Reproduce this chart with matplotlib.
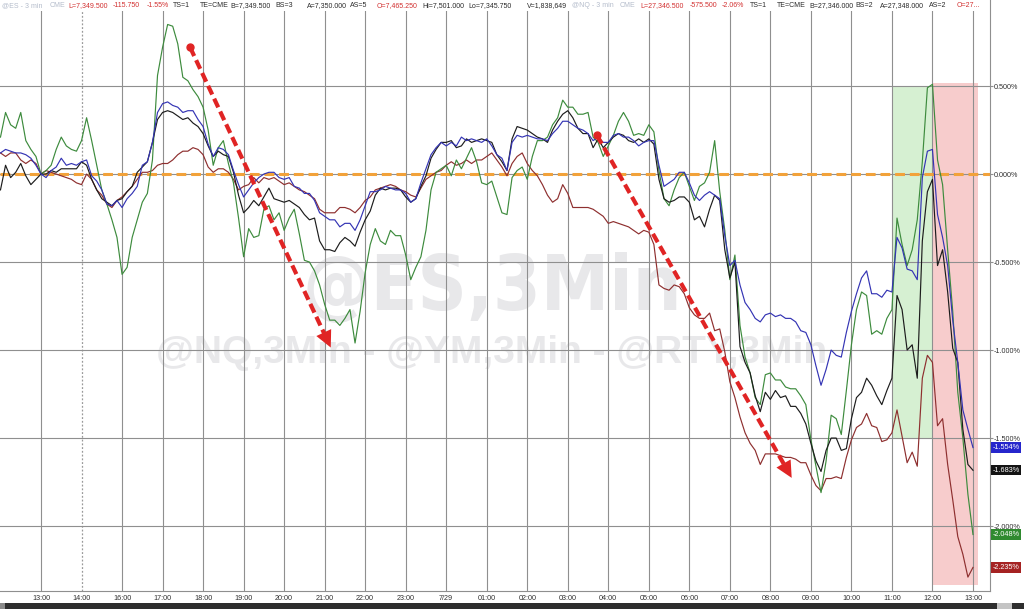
import numpy as np
import matplotlib
matplotlib.use("Agg")
import matplotlib.pyplot as plt
from matplotlib.patches import Rectangle, FancyArrowPatch
import matplotlib.transforms as mtransforms
from matplotlib import font_manager as fm

# ---------------- data ----------------
tick_labels = ['13:00', '14:00', '16:00', '17:00', '18:00', '19:00', '20:00', '21:00',
               '22:00', '23:00', '7/29', '01:00', '02:00', '03:00', '04:00', '05:00',
               '06:00', '07:00', '08:00', '09:00', '10:00', '11:00', '12:00', '13:00']
y_ticks = [0.5, 0.0, -0.5, -1.0, -1.5, -2.0]
y_tick_labels = ['0.500%', '0.000%', '-0.500%', '-1.000%', '-1.500%', '-2.000%']

sample_step_h = 0.125
first_sample_h = -1.0

rty_pct = [0.21, 0.35, 0.28, 0.26, 0.35, 0.19, 0.14, 0.10,
           0.00, 0.02, 0.05, 0.14, 0.21, 0.16, 0.14, 0.13,
           0.19, 0.32, 0.19, 0.05, -0.09, -0.17, -0.26, -0.36,
           -0.57, -0.53, -0.36, -0.26, -0.16, -0.11, 0.08, 0.56,
           0.72, 0.85, 0.84, 0.74, 0.55, 0.53, 0.48, 0.44,
           0.38, 0.25, 0.05, 0.15, 0.19, 0.06, -0.05, -0.25,
           -0.47, -0.31, -0.36, -0.35, -0.20, -0.18, -0.26, -0.22,
           -0.32, -0.25, -0.20, -0.34, -0.49, -0.50, -0.55, -0.63,
           -0.74, -0.83, -0.83, -0.86, -0.82, -0.77, -0.96, -0.78,
           -0.56, -0.40, -0.31, -0.38, -0.40, -0.32, -0.35, -0.35,
           -0.46, -0.60, -0.53, -0.47, -0.32, -0.09, 0.01, 0.03,
           0.05, -0.01, 0.08, 0.03, 0.09, 0.15, 0.07, -0.05,
           -0.06, -0.04, -0.13, -0.22, -0.23, -0.02, 0.02, 0.04,
           -0.03, 0.10, 0.19, 0.19, 0.21, 0.28, 0.32, 0.42,
           0.38, 0.38, 0.34, 0.34, 0.35, 0.21, 0.18, 0.10,
           0.16, 0.22, 0.30, 0.35, 0.30, 0.22, 0.23, 0.22,
           0.28, 0.24, 0.02, -0.14, -0.18, -0.09, -0.02, 0.01,
           -0.07, -0.15, -0.07, -0.05, 0.01, 0.19, -0.10, -0.32,
           -0.60, -0.46, -0.86, -1.04, -1.13, -1.27, -1.31, -1.14,
           -1.13, -1.17, -1.17, -1.21, -1.22, -1.22, -1.26, -1.31,
           -1.51, -1.66, -1.81, -1.63, -1.37, -1.39, -1.48, -1.23,
           -0.97, -0.77, -0.67, -0.69, -0.91, -0.89, -0.91, -0.82,
           -0.77, -0.25, -0.40, -0.52, -0.43, -0.26, 0.07, 0.49,
           0.51, 0.08, -0.06, -0.43, -0.78, -1.24, -1.50, -1.82,
           -2.048]

nq_pct = [0.12, 0.14, 0.13, 0.12, 0.12, 0.11, 0.09, 0.05,
          0.00, -0.02, 0.02, 0.04, 0.09, 0.05, 0.06, 0.05,
          0.07, 0.08, -0.01, -0.04, -0.09, -0.17, -0.18, -0.15,
          -0.19, -0.14, -0.11, -0.07, 0.05, 0.07, 0.18, 0.35,
          0.40, 0.41, 0.39, 0.38, 0.35, 0.36, 0.36, 0.31,
          0.27, 0.17, 0.10, 0.15, 0.14, 0.11, 0.02, -0.06,
          -0.13, -0.09, -0.05, -0.02, 0.00, 0.01, 0.01, -0.02,
          -0.03, -0.02, -0.07, -0.08, -0.11, -0.11, -0.15, -0.22,
          -0.24, -0.26, -0.26, -0.30, -0.28, -0.28, -0.32, -0.26,
          -0.18, -0.10, -0.10, -0.09, -0.07, -0.08, -0.09, -0.09,
          -0.11, -0.16, -0.14, -0.05, 0.03, 0.11, 0.15, 0.18,
          0.16, 0.18, 0.16, 0.21, 0.19, 0.20, 0.19, 0.18,
          0.20, 0.16, 0.11, 0.09, 0.02, 0.18, 0.22, 0.21,
          0.22, 0.21, 0.20, 0.20, 0.19, 0.23, 0.26, 0.30,
          0.30, 0.28, 0.26, 0.25, 0.23, 0.19, 0.21, 0.18,
          0.18, 0.22, 0.23, 0.21, 0.21, 0.19, 0.16, 0.18,
          0.19, 0.19, 0.05, -0.07, -0.05, -0.03, 0.01, 0.01,
          -0.05, -0.12, -0.15, -0.12, -0.10, -0.12, -0.14, -0.35,
          -0.52, -0.49, -0.63, -0.73, -0.77, -0.82, -0.84, -0.80,
          -0.79, -0.81, -0.80, -0.82, -0.82, -0.84, -0.89, -0.90,
          -0.97, -1.09, -1.20, -1.11, -1.00, -1.03, -1.04, -0.90,
          -0.78, -0.68, -0.59, -0.55, -0.68, -0.68, -0.70, -0.66,
          -0.67, -0.36, -0.42, -0.54, -0.55, -0.60, -0.02, 0.13,
          0.14, -0.23, -0.36, -0.52, -0.83, -1.07, -1.34, -1.45,
          -1.554]

es_pct = [-0.09, 0.05, -0.02, 0.01, 0.06, -0.01, -0.06, -0.03,
          0.00, 0.00, 0.02, 0.01, 0.03, 0.03, 0.03, 0.03,
          0.07, 0.05, -0.03, -0.09, -0.14, -0.16, -0.18, -0.15,
          -0.14, -0.10, -0.07, 0.01, 0.04, 0.07, 0.18, 0.31,
          0.35, 0.36, 0.35, 0.33, 0.31, 0.32, 0.29, 0.27,
          0.23, 0.16, 0.10, 0.13, 0.11, 0.10, 0.01, -0.12,
          -0.22, -0.19, -0.15, -0.18, -0.13, -0.08, -0.14, -0.15,
          -0.16, -0.15, -0.17, -0.19, -0.23, -0.26, -0.25, -0.38,
          -0.43, -0.43, -0.44, -0.39, -0.36, -0.38, -0.41, -0.33,
          -0.26, -0.21, -0.12, -0.08, -0.09, -0.08, -0.08, -0.09,
          -0.13, -0.16, -0.14, -0.07, -0.01, 0.09, 0.14, 0.18,
          0.18, 0.19, 0.15, 0.16, 0.20, 0.18, 0.19, 0.20,
          0.19, 0.18, 0.11, 0.07, 0.02, 0.20, 0.27, 0.26,
          0.25, 0.23, 0.21, 0.20, 0.18, 0.25, 0.30, 0.34,
          0.36, 0.32, 0.26, 0.23, 0.23, 0.15, 0.20, 0.15,
          0.18, 0.21, 0.23, 0.22, 0.19, 0.18, 0.20, 0.18,
          0.20, 0.17, -0.03, -0.14, -0.16, -0.15, -0.13, -0.13,
          -0.16, -0.26, -0.24, -0.30, -0.20, -0.12, -0.15, -0.43,
          -0.59, -0.50, -0.98, -1.07, -1.13, -1.26, -1.35, -1.24,
          -1.28, -1.23, -1.27, -1.26, -1.32, -1.32, -1.36, -1.42,
          -1.53, -1.63, -1.69, -1.57, -1.50, -1.50, -1.57, -1.56,
          -1.39, -1.27, -1.24, -1.16, -1.20, -1.26, -1.31, -1.23,
          -1.16, -0.69, -0.77, -1.00, -0.97, -1.16, -0.38, -0.10,
          -0.03, -0.52, -0.43, -0.67, -0.99, -1.07, -1.45, -1.65,
          -1.683]

ym_pct = [0.12, 0.10, 0.12, 0.12, 0.08, 0.06, 0.08, 0.06,
          0.00, 0.02, 0.01, 0.00, -0.01, -0.02, -0.03, -0.05,
          -0.06, 0.00, -0.03, -0.09, -0.12, -0.17, -0.19, -0.15,
          -0.13, -0.10, -0.07, -0.03, 0.01, 0.01, 0.02, 0.05,
          0.06, 0.06, 0.08, 0.11, 0.13, 0.13, 0.15, 0.14,
          0.11, 0.04, 0.01, 0.03, 0.03, 0.01, -0.03, -0.09,
          -0.07, -0.06, -0.02, -0.05, -0.02, -0.03, -0.02, -0.04,
          -0.06, -0.05, -0.07, -0.09, -0.10, -0.12, -0.14, -0.20,
          -0.22, -0.22, -0.22, -0.19, -0.19, -0.20, -0.22, -0.19,
          -0.15, -0.13, -0.09, -0.08, -0.07, -0.06, -0.07, -0.09,
          -0.10, -0.12, -0.13, -0.08, -0.03, -0.01, 0.01, 0.02,
          0.05, 0.07, 0.05, 0.06, 0.08, 0.06, 0.08, 0.08,
          0.10, 0.12, 0.08, 0.04, -0.01, 0.06, 0.10, 0.12,
          0.06, 0.02, -0.01, -0.06, -0.12, -0.16, -0.14, -0.06,
          -0.11, -0.19, -0.19, -0.19, -0.19, -0.20, -0.22, -0.24,
          -0.28, -0.27, -0.28, -0.29, -0.30, -0.32, -0.34, -0.32,
          -0.33, -0.40, -0.63, -0.65, -0.66, -0.63, -0.64, -0.68,
          -0.76, -0.80, -0.82, -0.82, -0.79, -0.89, -0.88, -1.01,
          -1.18, -1.27, -1.38, -1.47, -1.53, -1.57, -1.65, -1.59,
          -1.59, -1.59, -1.60, -1.61, -1.61, -1.62, -1.64, -1.64,
          -1.71, -1.77, -1.80, -1.73, -1.73, -1.72, -1.73, -1.61,
          -1.51, -1.44, -1.42, -1.36, -1.43, -1.44, -1.52, -1.51,
          -1.47, -1.34, -1.49, -1.64, -1.58, -1.66, -1.16, -1.03,
          -1.07, -1.43, -1.39, -1.65, -1.85, -2.06, -2.16, -2.29,
          -2.235]

last_value_labels = ['-1.554%', '-1.683%', '-2.048%', '-2.235%']

# ---------------- styling ----------------
C_NQ, C_ES, C_RTY, C_YM = '#3434b4', '#1c1c1c', '#3d8b3d', '#8e2f2f'
F_NQ, F_ES, F_RTY, F_YM = '#2626cc', '#141414', '#2f8a2f', '#a52222'
GRID = '#8f8f8f'
RED = '#e02424'
BASE_FONT = 'Liberation Sans'
WM_COLOR = '#e8e8ea'

# pick a condensed bold face for the big watermark if one is installed
wm_big_font = None
for f in fm.fontManager.ttflist:
    nm = f.name.lower()
    if ('narrow' in nm or 'condensed' in nm or str(f.stretch) in ('condensed', 'semi-condensed', '600', '700')
            or 'condensed' in f.fname.lower() or 'narrow' in f.fname.lower()):
        if f.weight in ('bold', 700) or 'bold' in f.fname.lower():
            wm_big_font = f.fname
            break

W, H = 1024, 609
fig = plt.figure(figsize=(W / 100, H / 100), dpi=100)
fig.patch.set_facecolor('white')
ax_bottom_px, ax_right_px = 591, 990
ax = fig.add_axes([0, 1 - ax_bottom_px / H, ax_right_px / W, ax_bottom_px / H])
ax.set_facecolor('white')

n = len(es_pct)
t = first_sample_h + sample_step_h * np.arange(n)

ax.set_xlim(-1.012, 23.42)
ax.set_ylim(-2.369, 0.989)

# shaded zones
ax.add_patch(Rectangle((21, -1.5), 1.0, 2.0, facecolor='#d6f0d2', edgecolor='none', zorder=0.6))
ax.add_patch(Rectangle((22, -2.335), 1.12, 2.851, facecolor='#f7cccc', edgecolor='none', zorder=0.6))

# watermarks
if wm_big_font is not None:
    big_fp = fm.FontProperties(fname=wm_big_font, size=55)
else:
    big_fp = fm.FontProperties(family=BASE_FONT, weight='bold', size=50)
ax.text(0.497, 0.4755, '@ES,3Min', transform=ax.transAxes, ha='center', va='baseline',
        fontproperties=big_fp, color=WM_COLOR, zorder=0.5)
ax.text(0.497, 0.3858, '@NQ,3Min - @YM,3Min - @RTY,3Min', transform=ax.transAxes,
        ha='center', va='baseline', fontsize=28, fontweight='bold', color=WM_COLOR,
        family=[BASE_FONT, 'DejaVu Sans'], zorder=0.5)

# grid
for i in range(len(tick_labels)):
    if tick_labels[i] == '14:00':
        ax.axvline(i, color='#9a9a9a', lw=0.9, ls=(0, (1.5, 1.5)), zorder=1)
    else:
        ax.axvline(i, color=GRID, lw=0.8, zorder=1)
for yv in y_ticks:
    ax.axhline(yv, color=GRID, lw=0.8, zorder=1)

# zero line
ax.axhline(0, color='#f2a23a', lw=2.2, dashes=(3.2, 1.6), zorder=2)

# series
ax.plot(t, ym_pct, color=C_YM, lw=0.85, zorder=3)
ax.plot(t, rty_pct, color=C_RTY, lw=0.85, zorder=3)
ax.plot(t, es_pct, color=C_ES, lw=0.85, zorder=3.1)
ax.plot(t, nq_pct, color=C_NQ, lw=0.85, zorder=3.2)

# red dashed arrows
def dashed_arrow(x0, y0, x1, y1):
    back = 0.045
    xb, yb = x1 - (x1 - x0) * back, y1 - (y1 - y0) * back
    ax.plot([x0, xb], [y0, yb], color=RED, lw=3.0, dashes=(2.3, 1.1),
            solid_capstyle='butt', dash_capstyle='butt', zorder=5)
    ax.plot([x0], [y0], 'o', ms=5, color=RED, zorder=5)
    arr = FancyArrowPatch((xb, yb), (x1, y1), arrowstyle='-|>,head_length=0.85,head_width=0.42',
                          mutation_scale=14, color=RED, lw=0, zorder=5)
    ax.add_patch(arr)

dashed_arrow(3.68, 0.72, 7.18, -1.0)
dashed_arrow(13.72, 0.22, 18.56, -1.74)

# axes / ticks
for s in ['left', 'top']:
    ax.spines[s].set_visible(False)
for s in ['right', 'bottom']:
    ax.spines[s].set_color(GRID)
    ax.spines[s].set_linewidth(0.8)
ax.set_xticks(range(len(tick_labels)))
ax.set_xticklabels(tick_labels, fontsize=5.2, family=BASE_FONT, color='#303030')
ax.tick_params(axis='x', length=0, pad=2.8)
ax.yaxis.tick_right()
ax.set_yticks(y_ticks)
ax.set_yticklabels(y_tick_labels, fontsize=5.2, family=BASE_FONT, color='#303030')
ax.tick_params(axis='y', length=2.2, width=0.8, color=GRID, pad=0.6)

# last-value flags
trans = mtransforms.blended_transform_factory(ax.transAxes, ax.transData)
flag_vals = [nq_pct[-1], es_pct[-1], rty_pct[-1], ym_pct[-1]]
flag_cols = [F_NQ, F_ES, F_RTY, F_YM]
for val, lab, col in zip(flag_vals, last_value_labels, flag_cols):
    ax.text(1.0025, val, lab, transform=trans, ha='left', va='center', fontsize=5.2,
            family=BASE_FONT, color='white', clip_on=False, zorder=6,
            bbox=dict(boxstyle='square,pad=0.22', facecolor=col, edgecolor='none'))

# header strip
fig.patches.append(Rectangle((0, 1 - 11 / H), 986 / W, 11 / H, transform=fig.transFigure,
                             facecolor='white', edgecolor='none', zorder=1))
GREY_T, RED_T, DARK_T = '#b4bccb', '#d23030', '#2a2a2a'
header = [(2, '@ES - 3 min', GREY_T), (50, 'CME', GREY_T), (68, 'L=7,349.500', RED_T),
          (113, '-115.750', RED_T), (147, '-1.55%', RED_T), (173, 'TS=1', DARK_T),
          (200, 'TE=CME', DARK_T), (230, 'B=7,349.500', DARK_T), (275, 'BS=3', DARK_T),
          (307, 'A=7,350.000', DARK_T), (350, 'AS=5', DARK_T), (377, 'O=7,465.250', RED_T),
          (422, 'Hi=7,501.000', DARK_T), (468, 'Lo=7,345.750', DARK_T), (527, 'V=1,838,649', DARK_T),
          (572, '@NQ - 3 min', GREY_T), (620, 'CME', GREY_T), (640, 'L=27,346.500', RED_T),
          (690, '-575.500', RED_T), (722, '-2.06%', RED_T), (750, 'TS=1', DARK_T),
          (777, 'TE=CME', DARK_T), (809, 'B=27,346.000', DARK_T), (855, 'BS=2', DARK_T),
          (880, 'A=27,348.000', DARK_T), (929, 'AS=2', DARK_T), (957, 'O=27...', RED_T)]
for xp, txt, col in header:
    fig.text(xp / W, 1 - 5.5 / H, txt, ha='left', va='center', fontsize=5.0,
             family=BASE_FONT, color=col, zorder=2)

# bottom scrollbar strip
fig.patches.append(Rectangle((0, 0), 1, 6 / H, transform=fig.transFigure,
                             facecolor='#2e2e2e', edgecolor='none', zorder=1))
fig.patches.append(Rectangle((0, 0), 5 / W, 6 / H, transform=fig.transFigure,
                             facecolor='#8a8a8a', edgecolor='none', zorder=1.1))
fig.patches.append(Rectangle((997 / W, 0), 15 / W, 6 / H, transform=fig.transFigure,
                             facecolor='#c4c4c4', edgecolor='none', zorder=1.1))

fig.savefig('out.png', dpi=100, facecolor='white')
